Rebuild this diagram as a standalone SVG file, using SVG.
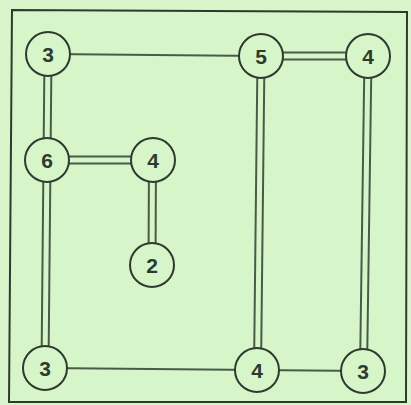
<svg xmlns="http://www.w3.org/2000/svg" width="411" height="405" viewBox="0 0 411 405">
<style>
.n circle{fill:#d6f6ca;stroke:#2f3a2f;stroke-width:2}
.n text{font-family:"Liberation Sans",Arial,sans-serif;font-size:21px;font-weight:bold;fill:#2f3a2f;text-anchor:middle;dominant-baseline:central}
.e line{stroke:#4a5a48;stroke-width:2}
</style>
<rect width="411" height="405" fill="#d8f5cc"/>
<polygon points="12,10 407,12 406,402 9,402" fill="#d6f6ca" stroke="#2f3a2f" stroke-width="2"/>
<g id="connectors" class="e">
<line x1="48" y1="54" x2="261" y2="56"/>
<line x1="261" y1="52.5" x2="368" y2="52.5"/><line x1="261" y1="59.5" x2="368" y2="59.5"/>
<line x1="44.5" y1="54" x2="43.5" y2="160"/><line x1="51.5" y1="54" x2="50.5" y2="160"/>
<line x1="47" y1="156.5" x2="153" y2="156.5"/><line x1="47" y1="163.5" x2="153" y2="163.5"/>
<line x1="149" y1="160" x2="148.5" y2="265"/><line x1="156" y1="160" x2="155.5" y2="265"/>
<line x1="43.5" y1="160" x2="41.5" y2="368"/><line x1="50.5" y1="160" x2="48.5" y2="368"/>
<line x1="257.5" y1="56" x2="254" y2="370"/><line x1="264.5" y1="56" x2="261" y2="370"/>
<line x1="364.5" y1="56" x2="360" y2="371"/><line x1="371.5" y1="56" x2="367" y2="371"/>
<line x1="45" y1="368" x2="257" y2="370"/>
<line x1="257" y1="370" x2="363" y2="371"/>
</g>
<g id="n1" class="n"><circle cx="48" cy="54" r="22"/><text x="48" y="54">3</text></g>
<g id="n2" class="n"><circle cx="261" cy="56" r="22"/><text x="261" y="56">5</text></g>
<g id="n3" class="n"><circle cx="368" cy="56" r="22"/><text x="368" y="56">4</text></g>
<g id="n4" class="n"><circle cx="47" cy="160" r="22"/><text x="47" y="160">6</text></g>
<g id="n5" class="n"><circle cx="153" cy="160" r="22"/><text x="153" y="160">4</text></g>
<g id="n6" class="n"><circle cx="152" cy="265" r="22"/><text x="152" y="265">2</text></g>
<g id="n7" class="n"><circle cx="45" cy="368" r="22"/><text x="45" y="368">3</text></g>
<g id="n8" class="n"><circle cx="257" cy="370" r="22"/><text x="257" y="370">4</text></g>
<g id="n9" class="n"><circle cx="363" cy="371" r="22"/><text x="363" y="371">3</text></g>
</svg>
